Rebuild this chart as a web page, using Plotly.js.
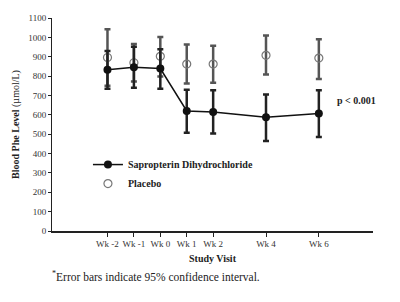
<!DOCTYPE html>
<html>
<head>
<meta charset="utf-8">
<script src="https://cdn.plot.ly/plotly-3.0.1.min.js"></script>
<style>
  html, body { margin: 0; padding: 0; background: #fff; }
  #chart { width: 400px; height: 302px; }
</style>
</head>
<body>
<div id="chart"></div>
<script>
// Study visits (weeks relative to start of treatment)
const weeks = [-2, -1, 0, 1, 2, 4, 6];
const weekLabels = ['Wk -2', 'Wk -1', 'Wk 0', 'Wk 1', 'Wk 2', 'Wk 4', 'Wk 6'];

// Sapropterin dihydrochloride: mean blood Phe and 95% CI bounds (µmol/L)
const sapMean = [833, 846, 839, 620, 615, 587, 607];
const sapLow  = [735, 740, 735, 508, 504, 465, 485];
const sapHigh = [930, 952, 938, 729, 727, 705, 727];

// Placebo: mean blood Phe and 95% CI bounds (µmol/L)
const plaMean = [896, 869, 902, 862, 862, 907, 893];
const plaLow  = [750, 772, 798, 762, 766, 808, 785];
const plaHigh = [1042, 966, 1002, 963, 957, 1009, 990];

const up = (hi, m) => hi.map((v, i) => v - m[i]);
const down = (lo, m) => lo.map((v, i) => m[i] - v);

const serif = 'Liberation Serif, Times New Roman, serif';

const traces = [
  {
    x: weeks, y: plaMean, name: 'Placebo',
    type: 'scatter', mode: 'markers',
    marker: { symbol: 'circle-open', size: 8, color: '#777', line: { width: 1.2, color: '#777' } },
    error_y: { type: 'data', symmetric: false,
      array: up(plaHigh, plaMean), arrayminus: down(plaLow, plaMean),
      color: '#555', thickness: 2.5, width: 3 }
  },
  {
    x: weeks, y: sapMean, name: 'Sapropterin Dihydrochloride',
    type: 'scatter', mode: 'lines+markers',
    line: { color: '#111', width: 1.5 },
    marker: { symbol: 'circle', size: 8, color: '#111' },
    error_y: { type: 'data', symmetric: false,
      array: up(sapHigh, sapMean), arrayminus: down(sapLow, sapMean),
      color: '#222', thickness: 2.5, width: 3 }
  }
];

const layout = {
  width: 400, height: 302,
  margin: { l: 52, r: 27, t: 18, b: 71 },
  paper_bgcolor: '#fff', plot_bgcolor: '#fff',
  showlegend: true,
  legend: {
    x: 0.112, y: 0.38, xanchor: 'left', yanchor: 'top',
    traceorder: 'reversed',
    font: { family: serif, size: 10, color: '#222', weight: 'bold' },
    bgcolor: 'rgba(0,0,0,0)', itemwidth: 30, tracegroupgap: 0
  },
  xaxis: {
    range: [-4.1, 8.05],
    tickmode: 'array', tickvals: weeks, ticktext: weekLabels,
    ticks: 'outside', ticklen: 4, tickwidth: 1, tickcolor: '#222',
    showline: true, linecolor: '#222', linewidth: 1.5,
    showgrid: false, zeroline: false,
    tickfont: { family: serif, size: 9, color: '#333' },
    title: { text: '<b>Study Visit</b>', font: { family: serif, size: 10, color: '#222' }, standoff: 6 }
  },
  yaxis: {
    range: [0, 1100],
    tickmode: 'linear', tick0: 0, dtick: 100,
    ticks: 'outside', ticklen: 3, tickwidth: 1, tickcolor: '#222',
    showline: true, linecolor: '#222', linewidth: 1,
    showgrid: false, zeroline: false,
    tickfont: { family: serif, size: 9, color: '#333' },
    title: { text: '<b>Blood Phe Level</b> (µmol/L)', font: { family: serif, size: 10, color: '#222' }, standoff: 6 }
  },
  annotations: [
    {
      text: '<b>p < 0.001</b>', xref: 'paper', yref: 'paper',
      x: 1.016, y: 0.615, xanchor: 'right', yanchor: 'middle', showarrow: false,
      font: { family: serif, size: 10, color: '#222' }
    },
    {
      text: '<sup>*</sup>Error bars indicate 95% confidence interval.',
      xref: 'paper', yref: 'paper', x: -0.005, y: -0.17,
      xanchor: 'left', yanchor: 'top', showarrow: false,
      font: { family: serif, size: 11.5, color: '#222' }
    }
  ]
};

Plotly.newPlot('chart', traces, layout, { displayModeBar: false, staticPlot: true });
</script>
</body>
</html>
